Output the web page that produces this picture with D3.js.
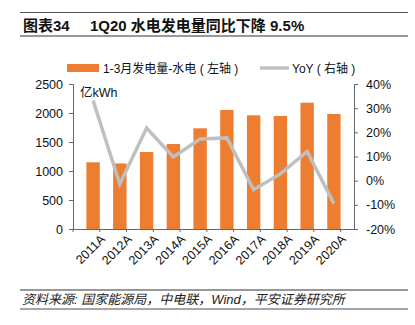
<!DOCTYPE html>
<html>
<head>
<meta charset="utf-8">
<script src="https://cdn.jsdelivr.net/npm/d3@7"></script>
<style>
  body { margin: 0; background: #fff; }
  svg { font-family: "Liberation Sans", Arial, "Noto Sans CJK SC", sans-serif; }
</style>
</head>
<body>
<div id="chart"></div>
<script>
const years = ["2011A", "2012A", "2013A", "2014A", "2015A", "2016A", "2017A", "2018A", "2019A", "2020A"];
const output = [1150, 1130, 1328, 1466, 1736, 2052, 1960, 1948, 2178, 1983];
const yoy = [33.2, -1.4, 21.8, 9.8, 17.2, 17.7, -3.7, 2.8, 12.1, -9.5];
const leftTicks = [0, 500, 1000, 1500, 2000, 2500];
const rightTicks = [-20, -10, 0, 10, 20, 30, 40];

const W = 415, H = 325;
const margin = { top: 84, right: 61, bottom: 96, left: 73 };
const width = W - margin.left - margin.right;
const height = H - margin.top - margin.bottom;

const svg = d3.select("#chart").append("svg")
  .attr("width", W)
  .attr("height", H);

// title block
svg.append("line").attr("x1", 20).attr("x2", 408).attr("y1", 12.5).attr("y2", 12.5)
  .attr("stroke", "#555").attr("stroke-width", 1);
svg.append("line").attr("x1", 20).attr("x2", 408).attr("y1", 36).attr("y2", 36)
  .attr("stroke", "#777").attr("stroke-width", 1.5);
svg.append("text").attr("x", 23).attr("y", 31)
  .style("font-size", "15px").style("font-weight", "bold").attr("fill", "#111")
  .text("图表34");
svg.append("text").attr("x", 90).attr("y", 31)
  .style("font-size", "15px").style("font-weight", "bold").attr("fill", "#111")
  .text("1Q20 水电发电量同比下降 9.5%");

// footer
svg.append("line").attr("x1", 20).attr("x2", 408).attr("y1", 290).attr("y2", 290)
  .attr("stroke", "#333").attr("stroke-width", 1);
svg.append("line").attr("x1", 20).attr("x2", 408).attr("y1", 309).attr("y2", 309)
  .attr("stroke", "#888").attr("stroke-width", 1.5);
svg.append("text").attr("x", 22).attr("y", 304)
  .style("font-size", "13px").style("font-style", "italic").attr("fill", "#222")
  .text("资料来源: 国家能源局，中电联，Wind，平安证券研究所");

const g = svg.append("g")
  .attr("transform", "translate(" + margin.left + "," + margin.top + ")");

const x = d3.scaleBand().domain(years).range([0, width]).padding(0.5);
const yL = d3.scaleLinear().domain([0, 2500]).range([height, 0]);
const yR = d3.scaleLinear().domain([-20, 40]).range([height, 0]);

// bars
g.selectAll(".bar")
  .data(years)
  .enter()
  .append("rect")
  .attr("class", "bar")
  .attr("x", (d) => x(d))
  .attr("y", (d, i) => yL(output[i]))
  .attr("width", x.bandwidth())
  .attr("height", (d, i) => height - yL(output[i]))
  .attr("fill", "#ED7D31");

// yoy line
const line = d3.line()
  .x((d, i) => x(years[i]) + x.bandwidth() / 2)
  .y((d) => yR(d));

g.append("path")
  .datum(yoy)
  .attr("d", line)
  .attr("fill", "none")
  .attr("stroke", "#BFBFBF")
  .attr("stroke-width", 3.5)
  .attr("stroke-linejoin", "miter");

// axes
const axisColor = "#666";
const xAxis = g.append("g")
  .attr("transform", "translate(0," + height + ")")
  .call(d3.axisBottom(x).tickSize(0).tickPadding(8));
xAxis.select(".domain").attr("stroke", axisColor);
xAxis.selectAll("text")
  .style("font-size", "12.5px")
  .attr("fill", "#111")
  .attr("text-anchor", "end")
  .attr("dx", "0.1em")
  .attr("dy", "0.7em")
  .attr("transform", "rotate(-45)");

// small ticks between categories
const step = x.step();
g.append("g")
  .selectAll("line")
  .data(d3.range(years.length + 1))
  .enter()
  .append("line")
  .attr("x1", (d) => d * step)
  .attr("x2", (d) => d * step)
  .attr("y1", height)
  .attr("y2", height + 3)
  .attr("stroke", axisColor);

const leftAxis = g.append("g")
  .call(d3.axisLeft(yL).tickValues(leftTicks).tickSize(4).tickPadding(6)
    .tickFormat(d3.format("d")));
leftAxis.select(".domain").attr("stroke", axisColor);
leftAxis.selectAll(".tick line").attr("stroke", axisColor);
leftAxis.selectAll("text").style("font-size", "12.5px").attr("fill", "#111");

const rightAxis = g.append("g")
  .attr("transform", "translate(" + width + ",0)")
  .call(d3.axisRight(yR).tickValues(rightTicks).tickSize(4).tickPadding(8)
    .tickFormat((d) => d + "%"));
rightAxis.select(".domain").attr("stroke", axisColor);
rightAxis.selectAll(".tick line").attr("stroke", axisColor);
rightAxis.selectAll("text").style("font-size", "12.5px").attr("fill", "#111");

// unit label
g.append("text")
  .attr("x", 7)
  .attr("y", 13)
  .style("font-size", "12.5px")
  .attr("fill", "#111")
  .text("亿kWh");

// legend
const legend = svg.append("g");
legend.append("rect")
  .attr("x", 67).attr("y", 64).attr("width", 32).attr("height", 8)
  .attr("fill", "#ED7D31");
legend.append("text")
  .attr("x", 103).attr("y", 72.5)
  .style("font-size", "12px").attr("fill", "#111")
  .text("1-3月发电量-水电 ( 左轴 )");
legend.append("line")
  .attr("x1", 260).attr("x2", 289).attr("y1", 68).attr("y2", 68)
  .attr("stroke", "#BFBFBF").attr("stroke-width", 3.5);
legend.append("text")
  .attr("x", 292).attr("y", 72.5)
  .style("font-size", "12px").attr("fill", "#111")
  .text("YoY ( 右轴 )");
</script>
</body>
</html>
